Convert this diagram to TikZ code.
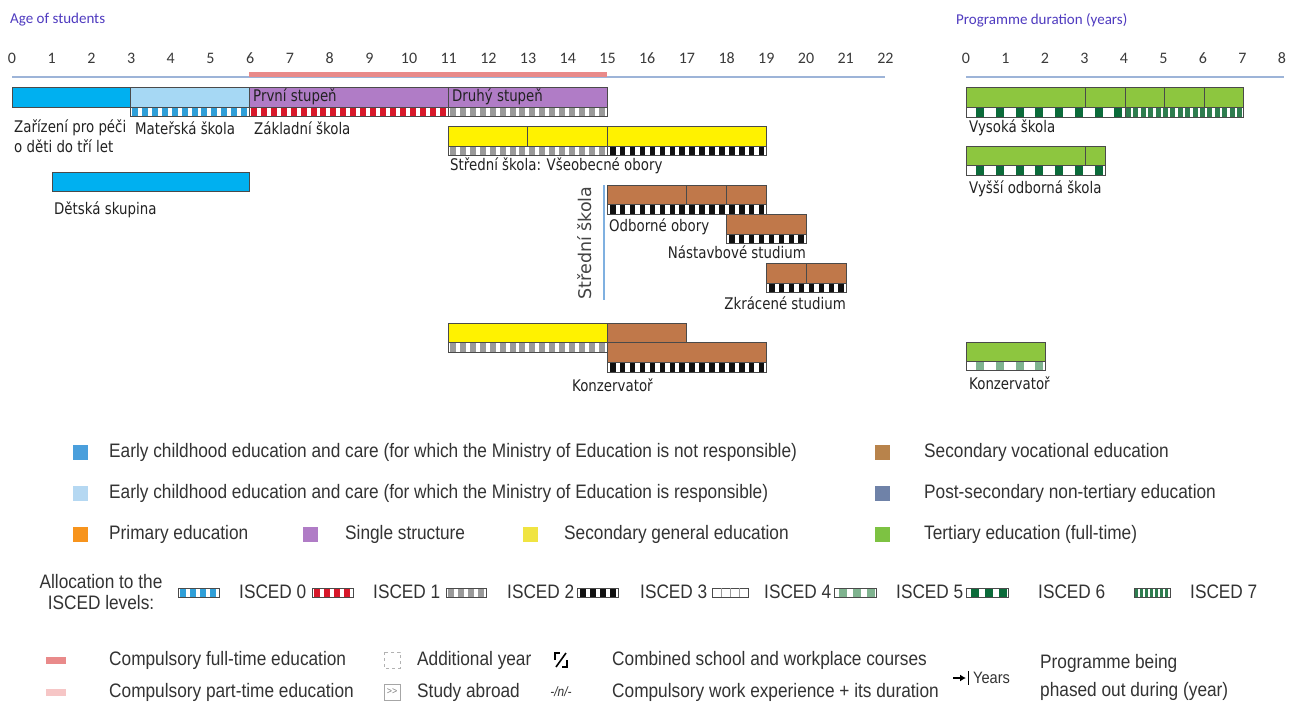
\documentclass[tikz,border=0pt]{standalone}
\usepackage{fontspec}
\usetikzlibrary{arrows.meta}
\setmainfont{Liberation Sans}
\newfontfamily\legfont[FakeStretch=0.885]{Liberation Sans}
\newfontfamily\czfont[FakeStretch=0.835]{DejaVu Sans}
\newfontfamily\czwide{DejaVu Sans}
\newfontfamily\axfont{Carlito}
\definecolor{ecdark}{HTML}{00B0F0}
\definecolor{eclight}{HTML}{A6D8F4}
\definecolor{purp}{HTML}{B07CC6}
\definecolor{yel}{HTML}{FFF200}
\definecolor{brn}{HTML}{C0784A}
\definecolor{grn}{HTML}{8DC63F}
\definecolor{titlecol}{HTML}{4F3BC0}
\definecolor{axiscol}{HTML}{9DB4D8}
\definecolor{compred}{HTML}{E98A8A}
\definecolor{comppink}{HTML}{F6C6C6}
\definecolor{isc0}{HTML}{2F9FD8}
\definecolor{isc1}{HTML}{D7182A}
\definecolor{isc2}{HTML}{9A9A9A}
\definecolor{isc3}{HTML}{111111}
\definecolor{isc5}{HTML}{7FB38F}
\definecolor{isc6}{HTML}{0B6B3A}
\definecolor{isc7}{HTML}{2E7D4F}
\definecolor{barline}{HTML}{4A4A4A}
\definecolor{txtdark}{HTML}{222222}
\definecolor{axtxt}{HTML}{3A3A3A}
\definecolor{legtxt}{HTML}{333333}
\definecolor{sqA}{HTML}{4A9FDC}
\definecolor{sqB}{HTML}{B5D8F2}
\definecolor{sqC}{HTML}{F7941D}
\definecolor{sqD}{HTML}{B07CC6}
\definecolor{sqE}{HTML}{F0E442}
\definecolor{sqF}{HTML}{B8834B}
\definecolor{sqG}{HTML}{6F82A8}
\definecolor{sqH}{HTML}{7DC242}
\definecolor{vline}{HTML}{7FB0E0}
\newcommand{\iscedstrip}[8]{%
  \fill[white] (#1,#3) rectangle (#2,#4);
  \begin{scope}
    \clip (#1,#3) rectangle (#2,#4);
    \pgfmathtruncatemacro{\nblk}{(#2-#1)/#6+1}
    \foreach \k in {0,...,\nblk}{
      \fill[#5] ({#1+#8+\k*#6},#3) rectangle ({#1+#8+\k*#6+#7},#4);
    }
  \end{scope}
  \draw[stripline] (#1,#3) rectangle (#2,#4);
}
\begin{document}
\begin{tikzpicture}[x=1pt,y=-1pt,
  barbox/.style={draw=barline, line width=0.8pt},
  divider/.style={draw=barline, line width=0.8pt},
  stripline/.style={draw=barline, line width=0.6pt},
  czlab/.style={font=\czfont\fontsize{16}{19}\selectfont, text=txtdark, inner sep=0pt},
  axlab/.style={font=\axfont\fontsize{16}{19}\selectfont, text=axtxt, inner sep=0pt},
  ttl/.style={font=\axfont\fontsize{15}{18}\selectfont, text=titlecol, inner sep=0pt, anchor=west},
  leg/.style={font=\legfont\fontsize{19.5}{21}\selectfont, text=legtxt, inner sep=0pt, anchor=west}
]
\useasboundingbox (0,0) rectangle (1289,706);
\fill[white] (0,0) rectangle (1289,706);

% ---------- titles and axes ----------
\node[ttl] (agettl) at (10,20) {Age of students};
\node[ttl] (durttl) at (956,20) {Programme duration (years)};
\foreach \a in {0,...,22}{
  \node[axlab] (age\a) at ({12+39.7*\a},58) {\a};
}
\foreach \d in {0,...,8}{
  \node[axlab] (dur\d) at ({966+39.5*\d},58) {\d};
}
\draw[axiscol, line width=1.5pt] (12,77) -- (885,77);
\draw[compred, line width=5pt] (249,74.5) -- (607,74.5);
\draw[axiscol, line width=1.5pt] (966,77) -- (1284,77);

% ---------- row 1 ----------
\filldraw[barbox, fill=ecdark] (12,87) rectangle (130,107);
\filldraw[barbox, fill=eclight] (130,87) rectangle (249,107);
\iscedstrip{130}{249}{107}{116}{isc0}{9.925}{6}{2}
\filldraw[barbox, fill=purp] (249,87) rectangle (607,107);
\draw[divider] (448,87) -- (448,107);
\iscedstrip{249}{448}{107}{116}{isc1}{9.925}{6}{2}
\iscedstrip{448}{607}{107}{116}{isc2}{9.925}{6}{2}
\node[czlab, anchor=west] (prvni) at (253,97) {První stupeň};
\node[czlab, anchor=west] (druhy) at (452,97) {Druhý stupeň};
\node[czlab, anchor=west] (zarizeni) at (14,128) {Zařízení pro péči};
\node[czlab, anchor=west] (zarizeni2) at (14,146) {o děti do tří let};
\node[czlab, anchor=west] (materska) at (135,128) {Mateřská škola};
\node[czlab, anchor=west] (zakladni) at (254,128) {Základní škola};

% ---------- Dětská skupina ----------
\filldraw[barbox, fill=ecdark] (52,172) rectangle (249,191);
\node[czlab, anchor=west] (detska) at (54,210) {Dětská skupina};

% ---------- Střední škola: Všeobecné obory ----------
\filldraw[barbox, fill=yel] (448,126) rectangle (766,146);
\draw[divider] (527,126) -- (527,146);
\draw[divider] (607,126) -- (607,146);
\iscedstrip{448}{607}{146}{155}{isc2}{9.925}{6}{2}
\iscedstrip{607}{766}{146}{155}{isc3}{9.925}{5.5}{3}
\node[czlab, anchor=west] (vseob) at (450,166) {Střední škola: Všeobecné obory};

% ---------- vocational ----------
\draw[vline, line width=1.8pt] (604,185) -- (604,300);
\node[font=\czwide\fontsize{17.5}{20}\selectfont, text=txtdark!85, inner sep=0pt, rotate=90] (stredni) at (585,243) {Střední škola};
\filldraw[barbox, fill=brn] (607,185) rectangle (766,204);
\draw[divider] (686,185) -- (686,204);
\draw[divider] (726,185) -- (726,204);
\iscedstrip{607}{766}{204}{214}{isc3}{9.925}{5.5}{3}
\node[czlab, anchor=west] (odborne) at (609,227) {Odborné obory};
\filldraw[barbox, fill=brn] (726,214) rectangle (806,234);
\iscedstrip{726}{806}{234}{243}{isc3}{9.925}{5.5}{3}
\node[czlab, anchor=east] (nastavb) at (806,252) {Nástavbové studium};
\filldraw[barbox, fill=brn] (766,263) rectangle (846,283);
\draw[divider] (806,263) -- (806,283);
\iscedstrip{766}{846}{283}{292}{isc3}{9.925}{5.5}{3}
\node[czlab, anchor=east] (zkracene) at (846,303) {Zkrácené studium};

% ---------- Konzervatoř (left) ----------
\filldraw[barbox, fill=yel] (448,323) rectangle (607,342);
\iscedstrip{448}{607}{342}{352}{isc2}{9.925}{6}{2}
\filldraw[barbox, fill=brn] (607,323) rectangle (686,342);
\filldraw[barbox, fill=brn] (607,342) rectangle (766,362);
\iscedstrip{607}{766}{362}{372}{isc3}{9.925}{5.5}{3}
\node[czlab, anchor=west] (konzL) at (572,385) {Konzervatoř};

% ---------- tertiary (right) ----------
\filldraw[barbox, fill=grn] (966,87) rectangle (1243,107);
\foreach \xx in {1085,1125,1164,1204}{ \draw[divider] (\xx,87) -- (\xx,107); }
\iscedstrip{966}{1125}{107}{117}{isc6}{19.75}{8}{10}
\iscedstrip{1125}{1243}{107}{117}{isc7}{7.4}{5}{1}
\node[czlab, anchor=west] (vysoka) at (969,128) {Vysoká škola};

\filldraw[barbox, fill=grn] (966,146) rectangle (1105,165);
\draw[divider] (1085,146) -- (1085,165);
\iscedstrip{966}{1105}{165}{175}{isc6}{19.75}{8}{10}
\node[czlab, anchor=west] (vyssi) at (969,189) {Vyšší odborná škola};

\filldraw[barbox, fill=grn] (966,342) rectangle (1045,361);
\iscedstrip{966}{1045}{361}{370}{isc5}{19.75}{8}{10}
\node[czlab, anchor=west] (konzR) at (969,383) {Konzervatoř};

% ---------- legend: categories ----------
\fill[sqA] (73,444.5) rectangle (88,459.5);
\node[leg] (lA) at (109,452) {Early childhood education and care (for which the Ministry of Education is not responsible)};
\fill[sqF] (875,444.5) rectangle (890,459.5);
\node[leg] (lF) at (924,452) {Secondary vocational education};
\fill[sqB] (73,485.5) rectangle (88,500.5);
\node[leg] (lB) at (109,493) {Early childhood education and care (for which the Ministry of Education is responsible)};
\fill[sqG] (875,485.5) rectangle (890,500.5);
\node[leg] (lG) at (924,493) {Post-secondary non-tertiary education};
\fill[sqC] (73,526.5) rectangle (88,541.5);
\node[leg] (lC) at (109,534) {Primary education};
\fill[sqD] (303,526.5) rectangle (318,541.5);
\node[leg] (lD) at (345,534) {Single structure};
\fill[sqE] (523,526.5) rectangle (538,541.5);
\node[leg] (lE) at (564,534) {Secondary general education};
\fill[sqH] (875,526.5) rectangle (890,541.5);
\node[leg] (lH) at (924,534) {Tertiary education (full-time)};

% ---------- legend: ISCED ----------
\node[leg, anchor=center, align=center] (alloc) at (101,592) {Allocation to the\\ISCED levels:};
\iscedstrip{178}{219}{588}{597}{isc0}{10}{6}{2}
\node[leg] (i0) at (239,592) {ISCED 0};
\iscedstrip{312}{353}{588}{597}{isc1}{10}{6}{2}
\node[leg] (i1) at (373,592) {ISCED 1};
\iscedstrip{446}{486}{588}{597}{isc2}{10}{6}{2}
\node[leg] (i2) at (507,592) {ISCED 2};
\iscedstrip{577}{618}{588}{597}{isc3}{10}{5.5}{3}
\node[leg] (i3) at (640,592) {ISCED 3};
\iscedstrip{712}{748}{588}{597}{white}{10}{6}{2}
\foreach \xx in {721,730,739}{ \draw[isc2, line width=0.5pt] (\xx,588) -- (\xx,597); }
\node[leg] (i4) at (764,592) {ISCED 4};
\iscedstrip{834}{876}{588}{597}{isc5}{14}{8}{5}
\node[leg] (i5) at (896,592) {ISCED 5};
\iscedstrip{966}{1008}{588}{597}{isc6}{14}{8}{5}
\node[leg] (i6) at (1038,592) {ISCED 6};
\iscedstrip{1134}{1170}{588}{597}{isc7}{5}{3.5}{0.5}
\node[leg] (i7) at (1190,592) {ISCED 7};

% ---------- legend: other symbols ----------
\fill[compred] (46,656.5) rectangle (66,663.5);
\node[leg] (cft) at (109,660) {Compulsory full-time education};
\fill[comppink] (46,688.5) rectangle (66,695.5);
\node[leg] (cpt) at (109,692) {Compulsory part-time education};
\draw[gray!60, dashed, line width=0.7pt] (384,652) rectangle (400,668);
\node[leg] (addy) at (417,660) {Additional year};
\draw[gray!70, line width=0.7pt] (384,684) rectangle (400,700);
\node[font=\legfont\fontsize{10}{12}\selectfont, text=gray, inner sep=0pt] (sabr) at (392,692) {>>};
\node[leg] (stab) at (417,692) {Study abroad};
\draw[black, line width=1.6pt] (555,660) -- (555,653) -- (560,653);
\draw[black, line width=1.6pt] (567,660) -- (567,667) -- (562,667);
\draw[black, line width=1.6pt] (556,667) -- (566,653);
\node[leg] (comb) at (612,660) {Combined school and workplace courses};
\node[font=\legfont\itshape\fontsize{13.5}{15}\selectfont, text=legtxt, inner sep=0pt] (wexp) at (561,692) {-/n/-};
\node[leg] (cwe) at (612,692) {Compulsory work experience + its duration};
\coordinate (arrA) at (953,678);
\coordinate (arrB) at (966,678);
\draw[black, line width=1.5pt, -{Latex[length=6pt,width=7pt]}] (arrA) -- (arrB);
\draw[black, line width=1.5pt] (968.5,671) -- (968.5,685);
\node[leg, font=\legfont\fontsize{16.5}{19}\selectfont] (yrs) at (973,678) {Years};
\node[leg, align=left, font=\legfont\fontsize{19.5}{28}\selectfont] (phase) at (1040,677) {Programme being\\phased out during (year)};
\end{tikzpicture}
\end{document}
